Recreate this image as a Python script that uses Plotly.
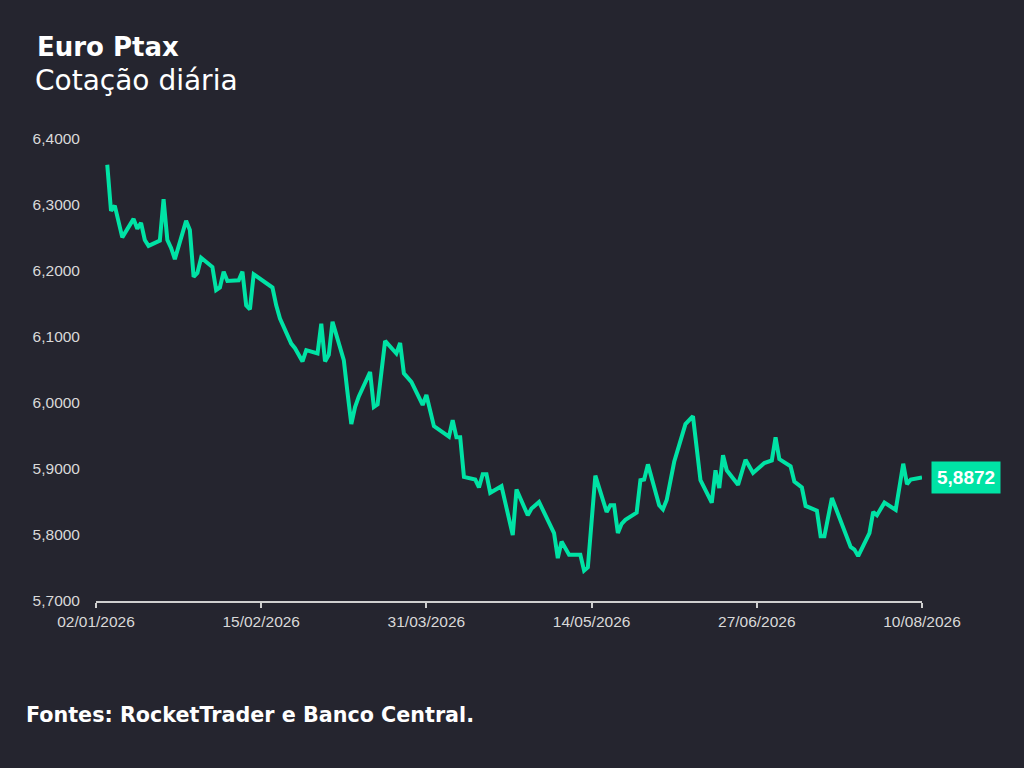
import plotly.graph_objects as go

# Euro Ptax - cotação diária
datas = [
    "2026-01-05", "2026-01-06", "2026-01-07", "2026-01-09", "2026-01-12", "2026-01-13",
    "2026-01-14", "2026-01-15", "2026-01-16", "2026-01-19", "2026-01-20", "2026-01-21",
    "2026-01-22", "2026-01-23", "2026-01-26", "2026-01-27", "2026-01-28", "2026-01-29",
    "2026-01-30", "2026-02-02", "2026-02-03", "2026-02-04", "2026-02-05", "2026-02-06",
    "2026-02-09", "2026-02-10", "2026-02-11", "2026-02-12", "2026-02-13", "2026-02-18",
    "2026-02-19", "2026-02-20", "2026-02-23", "2026-02-24", "2026-02-26", "2026-02-27",
    "2026-03-02", "2026-03-03", "2026-03-04", "2026-03-05", "2026-03-06", "2026-03-09",
    "2026-03-10", "2026-03-11", "2026-03-12", "2026-03-13", "2026-03-16", "2026-03-17",
    "2026-03-18", "2026-03-20", "2026-03-23", "2026-03-24", "2026-03-25", "2026-03-26",
    "2026-03-27", "2026-03-30", "2026-03-31", "2026-04-02", "2026-04-06", "2026-04-07",
    "2026-04-08", "2026-04-09", "2026-04-10", "2026-04-13", "2026-04-14", "2026-04-15",
    "2026-04-16", "2026-04-17", "2026-04-20", "2026-04-23", "2026-04-24", "2026-04-27",
    "2026-04-28", "2026-04-30", "2026-05-04", "2026-05-05", "2026-05-06", "2026-05-08",
    "2026-05-11", "2026-05-12", "2026-05-13", "2026-05-15", "2026-05-18", "2026-05-19",
    "2026-05-20", "2026-05-21", "2026-05-22", "2026-05-23", "2026-05-26", "2026-05-27",
    "2026-05-28", "2026-05-29", "2026-06-01", "2026-06-02", "2026-06-03", "2026-06-05",
    "2026-06-08", "2026-06-10", "2026-06-12", "2026-06-15", "2026-06-16", "2026-06-17",
    "2026-06-18", "2026-06-19", "2026-06-22", "2026-06-24", "2026-06-26", "2026-06-29",
    "2026-07-01", "2026-07-02", "2026-07-03", "2026-07-06", "2026-07-07", "2026-07-09",
    "2026-07-10", "2026-07-13", "2026-07-14", "2026-07-15", "2026-07-17", "2026-07-22",
    "2026-07-23", "2026-07-24", "2026-07-27", "2026-07-28", "2026-07-29", "2026-07-31",
    "2026-08-03", "2026-08-05", "2026-08-06", "2026-08-07", "2026-08-10",
]
cotacao = [
    6.361, 6.291, 6.299, 6.251, 6.279, 6.264,
    6.273, 6.247, 6.238, 6.246, 6.309, 6.247,
    6.235, 6.218, 6.276, 6.262, 6.191, 6.197,
    6.220, 6.206, 6.171, 6.175, 6.199, 6.185,
    6.186, 6.199, 6.148, 6.142, 6.195, 6.175,
    6.148, 6.128, 6.090, 6.083, 6.063, 6.080,
    6.075, 6.120, 6.063, 6.073, 6.123, 6.065,
    6.015, 5.968, 5.994, 6.010, 6.047, 5.994,
    5.998, 6.094, 6.075, 6.091, 6.045, 6.039,
    6.032, 5.997, 6.012, 5.965, 5.949, 5.974,
    5.948, 5.948, 5.888, 5.884, 5.872, 5.892,
    5.892, 5.864, 5.874, 5.800, 5.869, 5.830,
    5.840, 5.850, 5.803, 5.765, 5.790, 5.770,
    5.770, 5.746, 5.751, 5.890, 5.835, 5.845,
    5.845, 5.803, 5.817, 5.823, 5.834, 5.883,
    5.884, 5.907, 5.845, 5.839, 5.853, 5.911,
    5.968, 5.980, 5.883, 5.849, 5.898, 5.871,
    5.921, 5.898, 5.876, 5.914, 5.894, 5.909,
    5.913, 5.948, 5.915, 5.904, 5.881, 5.872,
    5.844, 5.837, 5.798, 5.798, 5.856, 5.782,
    5.778, 5.768, 5.803, 5.835, 5.830, 5.849,
    5.838, 5.908, 5.877, 5.884, 5.8872,
]

x_ticks = ["2026-01-02", "2026-02-15", "2026-03-31", "2026-05-14", "2026-06-27", "2026-08-10"]
x_tick_labels = ["02/01/2026", "15/02/2026", "31/03/2026", "14/05/2026", "27/06/2026", "10/08/2026"]
y_ticks = [5.7, 5.8, 5.9, 6.0, 6.1, 6.2, 6.3, 6.4]

ultimo_valor = "5,8872"

bg = "#25252f"
verde = "#00e3a5"

fig = go.Figure()
fig.add_trace(go.Scatter(x=datas, y=cotacao, mode="lines",
                         line=dict(color=verde, width=4), hoverinfo="skip"))

# rótulo do último valor
fig.add_annotation(x=datas[-1], y=cotacao[-1], text="<b>" + ultimo_valor + "</b>",
                   showarrow=False, xanchor="left", yanchor="middle", xshift=9,
                   bgcolor=verde, borderpad=5,
                   font=dict(family="Liberation Sans, Arial", size=19, color="white"))

# títulos e fonte
fig.add_annotation(xref="paper", yref="paper", x=-0.0738, y=1.199, xanchor="left", yanchor="middle",
                   text="<b>Euro Ptax</b>", showarrow=False,
                   font=dict(family="DejaVu Sans", size=26, color="white"))
fig.add_annotation(xref="paper", yref="paper", x=-0.0768, y=1.126, xanchor="left", yanchor="middle",
                   text="Cotação diária", showarrow=False,
                   font=dict(family="DejaVu Sans", size=28, color="white"))
fig.add_annotation(xref="paper", yref="paper", x=-0.0872, y=-0.247, xanchor="left", yanchor="middle",
                   text="<b>Fontes: RocketTrader e Banco Central.</b>", showarrow=False,
                   font=dict(family="DejaVu Sans", size=20.7, color="white"))

fig.update_layout(
    width=1024, height=768,
    margin=dict(l=96, r=102, t=139, b=167),
    paper_bgcolor=bg, plot_bgcolor=bg,
    showlegend=False,
    separators=",.",
    font=dict(family="Liberation Sans, Arial", size=15.5, color="#d9d9d9"),
)
fig.update_xaxes(range=["2026-01-02", "2026-08-10"], tickvals=x_ticks, ticktext=x_tick_labels,
                 showgrid=False, zeroline=False, showline=True, linecolor="#cfcfcf", linewidth=2,
                 ticks="outside", ticklen=5, tickwidth=2, tickcolor="#cfcfcf")
fig.update_yaxes(range=[5.7, 6.4], tickvals=y_ticks, tickformat=".4f",
                 showgrid=False, zeroline=False, showline=False, ticks="", ticklabelstandoff=15)

# sem margem branca da página
fig.write_html("out.html", config={"displayModeBar": False},
               post_script="document.body.style.margin='0';document.body.style.overflow='hidden';")
